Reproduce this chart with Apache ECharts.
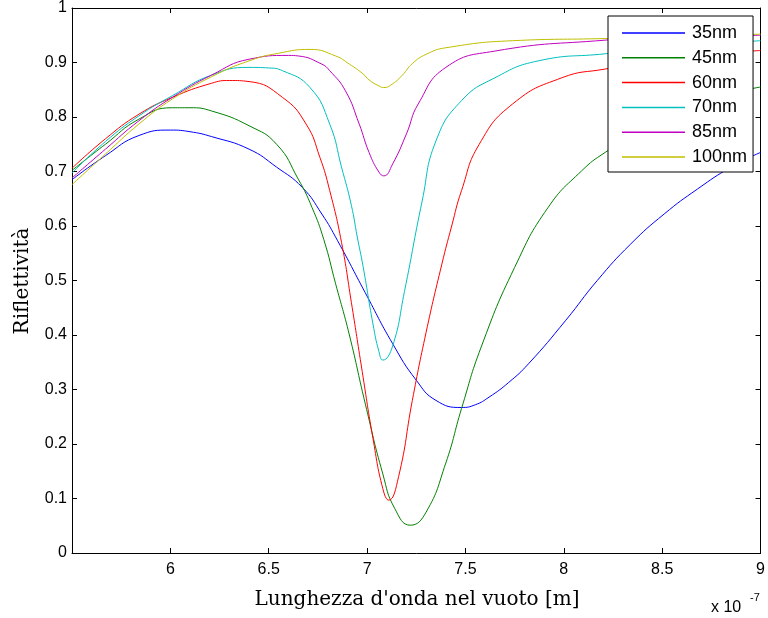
<!DOCTYPE html>
<html>
<head>
<meta charset="utf-8">
<script src="https://cdn.jsdelivr.net/npm/echarts@6/dist/echarts.min.js"></script>
<style>html,body{margin:0;padding:0;background:#fff}#c{width:768px;height:618px}</style>
</head>
<body>
<div id="c"></div>
<script>
// wavelength in units of 1e-7 m
const names = ['35nm','45nm','60nm','70nm','85nm','100nm'];
const xTicks = [5.5, 6, 6.5, 7, 7.5, 8, 8.5, 9];

const x35 = [5.5,5.67,5.84,6.0,6.1,6.21,6.4,6.54,6.67,6.77,6.85,6.99,7.13,7.25,7.35,7.48,7.55,7.62,7.72,7.82,8.01,8.17,8.34,8.51,8.68,8.85,9.0];
const y35 = [.685,.729,.766,.776,.773,.764,.741,.708,.671,.622,.573,.478,.384,.317,.280,.267,.272,.286,.313,.347,.427,.500,.567,.622,.668,.708,.735];

const x45 = [5.5,5.67,5.84,6.01,6.1,6.21,6.4,6.54,6.65,6.72,6.78,6.84,6.91,6.99,7.08,7.14,7.22,7.30,7.40,7.48,7.58,7.75,7.92,8.09,8.21,8.5,8.75,9.0];
const y45 = [.702,.750,.796,.817,.817,.811,.784,.750,.686,.634,.575,.494,.400,.275,.145,.082,.051,.075,.165,.265,.378,.524,.634,.701,.735,.800,.834,.855];

const x60 = [5.5,5.67,5.84,6.01,6.21,6.3,6.4,6.57,6.69,6.76,6.81,6.87,6.92,6.97,7.03,7.08,7.11,7.16,7.23,7.30,7.38,7.43,7.48,7.57,7.74,7.99,8.21,8.5,8.75,9.0];
const y60 = [.706,.760,.805,.836,.862,.867,.865,.836,.787,.726,.665,.570,.460,.345,.210,.118,.097,.140,.280,.405,.530,.600,.665,.750,.824,.872,.888,.905,.915,.922];

const x70 = [5.5,5.67,5.84,6.01,6.21,6.4,6.5,6.57,6.71,6.81,6.87,6.92,6.95,6.98,7.03,7.06,7.08,7.13,7.19,7.28,7.35,7.48,7.65,7.87,8.21,8.5,8.75,9.0];
const y70 = [.697,.755,.802,.839,.877,.891,.890,.885,.854,.787,.708,.638,.580,.525,.420,.370,.354,.380,.480,.646,.756,.830,.872,.903,.916,.927,.934,.940];

const x85 = [5.5,5.67,5.84,6.01,6.21,6.4,6.6,6.65,6.77,6.81,6.89,6.96,7.01,7.06,7.085,7.13,7.20,7.26,7.40,7.65,8.21,8.5,9.0];
const y85 = [.688,.741,.793,.836,.877,.906,.913,.912,.897,.885,.848,.787,.735,.699,.692,.714,.769,.824,.891,.921,.941,.946,.950];

const x100 = [5.5,5.67,5.84,6.01,6.21,6.4,6.55,6.71,6.84,6.91,6.98,7.01,7.06,7.085,7.13,7.18,7.23,7.30,7.40,7.74,8.21,9.0];
const y100 = [.676,.732,.787,.833,.874,.903,.917,.924,.912,.897,.879,.868,.857,.854,.861,.877,.898,.915,.927,.940,.944,.952];

const colors = ['#0000ff','#008000','#ff0000','#00bfbf','#bf00bf','#bfbf00'];
const xs = [x35,x45,x60,x70,x85,x100];
const ys = [y35,y45,y60,y70,y85,y100];

const chart = echarts.init(document.getElementById('c'));
const tickFont = {fontFamily:'Liberation Sans, Arial, sans-serif', fontSize:16, color:'#000'};
const axisCommon = {
  axisLine:{show:true, onZero:false, lineStyle:{color:'#000', width:1}},
  axisTick:{show:true, inside:true, length:5, lineStyle:{color:'#000'}},
  splitLine:{show:false}
};
chart.setOption({
  animation:false,
  grid:{left:72, right:6, top:7, bottom:65, containLabel:false},
  xAxis:[
    Object.assign({type:'value', min:5.5, max:9, interval:0.5, position:'bottom',
      axisLabel:Object.assign({margin:9, formatter:v => (Math.abs(v-5.5)<1e-9 ? '' : String(v))}, tickFont)}, axisCommon),
    Object.assign({type:'value', min:5.5, max:9, interval:0.5, position:'top', axisLabel:{show:false}}, axisCommon)
  ],
  yAxis:[
    Object.assign({type:'value', min:0, max:1, interval:0.1, position:'left',
      axisLabel:Object.assign({margin:5}, tickFont)}, axisCommon),
    Object.assign({type:'value', min:0, max:1, interval:0.1, position:'right', axisLabel:{show:false}}, axisCommon)
  ],
  legend:{
    orient:'vertical', left:608, top:16,
    backgroundColor:'#fff', borderColor:'#000', borderWidth:1, borderRadius:0,
    padding:[8,6,6,14], itemWidth:63, itemHeight:1.5, itemGap:6.8, icon:'rect',
    textStyle:{fontFamily:'Liberation Sans, Arial, sans-serif', fontSize:18, lineHeight:18, color:'#000', padding:[0,0,0,2]},
    data:names
  },
  graphic:[
    {type:'text', style:{text:"Lunghezza d'onda nel vuoto [m]", x:417, y:610, textAlign:'center', textVerticalAlign:'bottom', font:'20px "DejaVu Serif", serif', fill:'#000'}},
    {type:'text', rotation:Math.PI/2, x:23, y:281, style:{text:'Riflettività', textAlign:'center', textVerticalAlign:'middle', font:'20px "DejaVu Serif", serif', fill:'#000'}},
    {type:'text', style:{text:'x 10', x:711, y:616, textAlign:'left', textVerticalAlign:'bottom', font:'16px "Liberation Sans", Arial, sans-serif', fill:'#000'}},
    {type:'text', style:{text:'-7', x:750, y:603, textAlign:'left', textVerticalAlign:'bottom', font:'11px "Liberation Sans", Arial, sans-serif', fill:'#000'}}
  ],
  series: names.map((n,i) => ({
    name:n, type:'line', xAxisIndex:0, yAxisIndex:0,
    data: xs[i].map((x,j) => [x, ys[i][j]]),
    showSymbol:false, symbol:'none', smooth:0.5,
    lineStyle:{color:colors[i], width:1}, itemStyle:{color:colors[i]}
  }))
});
</script>
</body>
</html>
